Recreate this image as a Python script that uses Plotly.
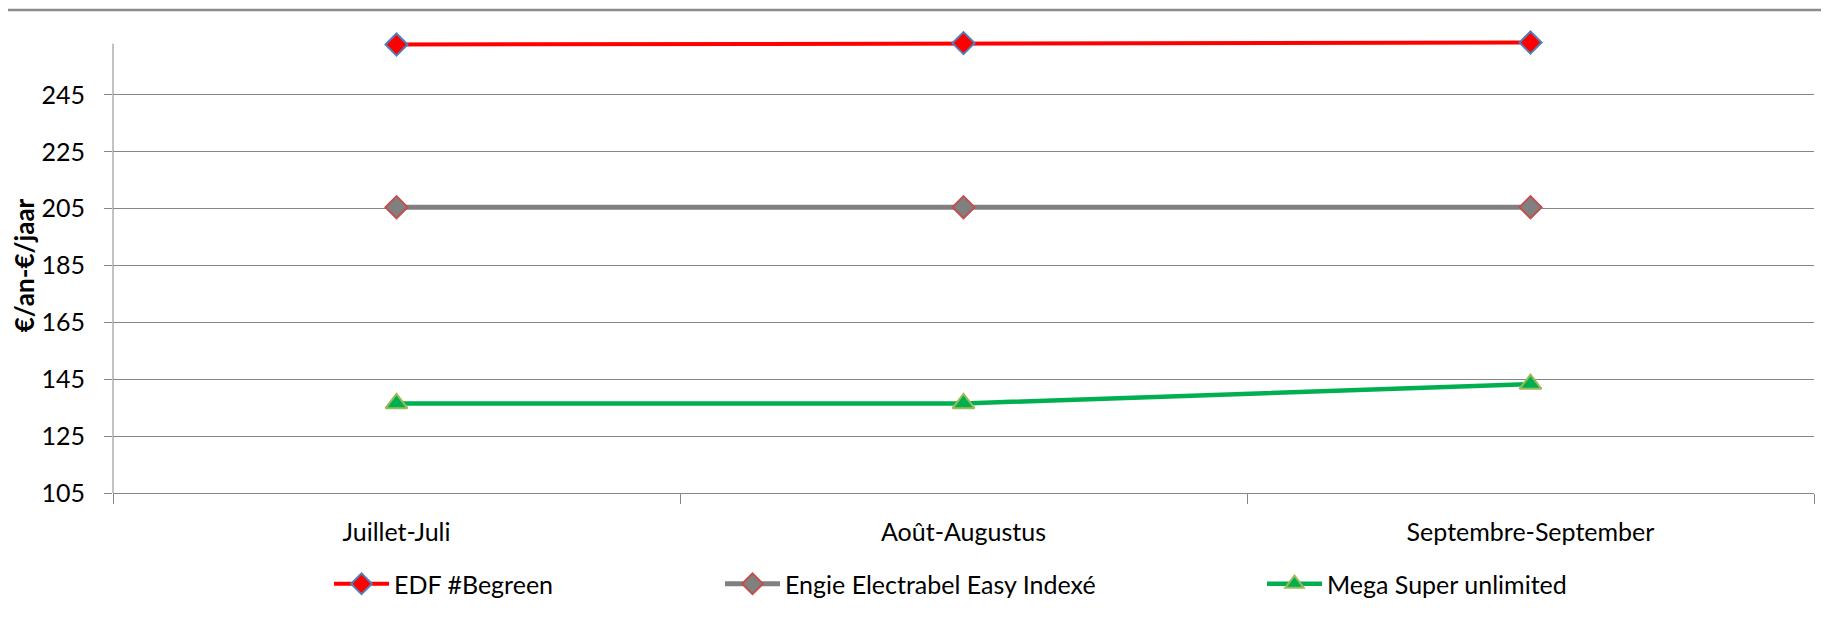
import plotly.graph_objects as go

months = ["Juillet-Juli", "Août-Augustus", "Septembre-September"]
edf = [262.7, 263.2, 263.4]
engie = [205.5, 205.5, 205.5]
mega = [136.5, 136.5, 143.3]
y_ticks = [105, 125, 145, 165, 185, 205, 225, 245]
y_axis_top = 263

# the page body adds an 8px margin, so the figure is drawn 8px smaller
OFF = 8
W, H = 1829 - OFF, 631 - OFF
L, R, T, B = 113 - OFF, 15, 38 - OFF, 138
PW = W - L - R
PH = H - T - B

FONT = "Lato"
FS = 25
GRID = "#868686"

fig = go.Figure()
fig.add_trace(go.Scatter(
    x=months, y=edf, name="EDF #Begreen", mode="lines+markers",
    line=dict(color="#FF0000", width=4),
    marker=dict(symbol="diamond", size=17, color="#FF0000",
                line=dict(color="#4F81BD", width=2)),
    cliponaxis=False, legend="legend"))
fig.add_trace(go.Scatter(
    x=months, y=engie, name="Engie Electrabel Easy Indexé", mode="lines+markers",
    line=dict(color="#808080", width=5),
    marker=dict(symbol="diamond", size=17, color="#808080",
                line=dict(color="#C0504D", width=2)),
    cliponaxis=False, legend="legend2"))
fig.add_trace(go.Scatter(
    x=months, y=mega, name="Mega Super unlimited", mode="lines+markers",
    line=dict(color="#00B050", width=4.5),
    marker=dict(symbol="triangle-up", size=19, color="#00B050",
                line=dict(color="#9BBB59", width=2)),
    cliponaxis=False, legend="legend3"))

def px_x(px):
    return (px - L) / PW

def px_y(px):
    return (T + PH - px) / PH

legend_common = dict(orientation="h", xanchor="left", yanchor="middle",
                     xref="container", yref="container", itemwidth=55,
                     font=dict(family=FONT, size=FS, color="#000000"),
                     bgcolor="rgba(0,0,0,0)", borderwidth=0, visible=True)
leg_y = (H - (584 - OFF)) / H
fig.update_layout(
    showlegend=True,
    legend=dict(x=321 / W, y=leg_y, **legend_common),
    legend2=dict(x=712 / W, y=leg_y, **legend_common),
    legend3=dict(x=1254 / W, y=leg_y, **legend_common),
)

fig.update_layout(
    width=W, height=H, autosize=False,
    margin=dict(l=L, r=R, t=T, b=B, pad=0, autoexpand=False),
    paper_bgcolor="white", plot_bgcolor="white",
    font=dict(family=FONT, size=FS, color="#000000"),
    hovermode=False,
    xaxis=dict(
        type="category", range=[-0.5, 2.5], tickson="boundaries",
        ticks="outside", ticklen=10, tickcolor=GRID, tickwidth=1,
        showgrid=False, showline=True, linecolor=GRID, linewidth=1,
        zeroline=False, ticklabelstandoff=17, automargin=False,
        tickfont=dict(family=FONT, size=FS, color="#000000"),
    ),
    yaxis=dict(
        range=[105, 265], tickvals=y_ticks, ticktext=[str(v) for v in y_ticks],
        ticks="outside", ticklen=8, tickcolor=GRID, tickwidth=1,
        showgrid=True, gridcolor=GRID, gridwidth=1,
        showline=False, zeroline=False, automargin=False,
        ticklabelstandoff=14,
        tickfont=dict(family=FONT, size=FS, color="#000000"),
        title=dict(text="<b>€/an-€/jaar</b>", standoff=2,
                   font=dict(family=FONT, size=26, color="#000000")),
    ),
    shapes=[
        dict(type="line", xref="paper", yref="paper",
             x0=px_x(-OFF), x1=px_x(W), y0=px_y(10 - OFF), y1=px_y(10 - OFF),
             line=dict(color="#8C8C8C", width=2.5)),
        dict(type="line", xref="paper", yref="y", layer="below",
             x0=0, x1=0, y0=y_ticks[0], y1=y_axis_top,
             line=dict(color=GRID, width=1)),
    ],
)

fig.write_html("out.html")
